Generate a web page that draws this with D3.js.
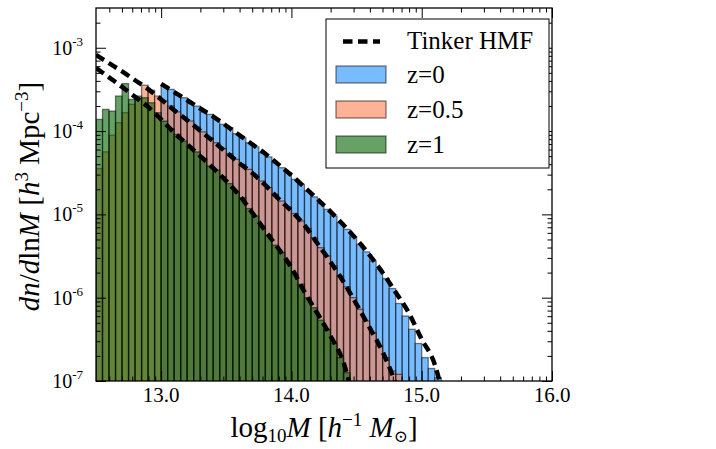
<!DOCTYPE html>
<html>
<head>
<meta charset="utf-8">
<script src="https://cdn.jsdelivr.net/npm/d3@7"></script>
<style>
  body { margin: 0; background: #fff; }
  svg text { font-family: "Liberation Serif", "Times New Roman", Tinos, "DejaVu Serif", "Noto Serif", serif; }
</style>
</head>
<body>
<div id="chart"></div>
<script>
// histogram bins in log10 M
const binStart = 12.5;
const binWidth = 0.05;

// log10 dn/dlnM per bin (index of first bin given)
const z0First = 10;
const z0Hist = [-3.46, -3.50, -3.57, -3.60, -3.67, -3.70, -3.77, -3.80, -3.86, -3.92,
  -3.96, -4.03, -4.08, -4.14, -4.19, -4.26, -4.31, -4.38, -4.44, -4.50,
  -4.58, -4.64, -4.72, -4.79, -4.87, -4.94, -5.02, -5.10, -5.18, -5.27,
  -5.36, -5.45, -5.56, -5.66, -5.77, -5.89, -6.07, -6.22, -6.38, -6.55,
  -6.72, -6.85, -6.96];
const z05First = 0;
const z05Hist = [-4.45, -4.25, -4.05, -3.90, -3.78, -3.68, -3.62, -3.45, -3.51, -3.58,
  -3.64, -3.70, -3.77, -3.83, -3.88, -3.95, -4.01, -4.08, -4.14, -4.21,
  -4.27, -4.34, -4.40, -4.46, -4.53, -4.60, -4.68, -4.76, -4.84, -4.91,
  -4.99, -5.08, -5.17, -5.28, -5.40, -5.50, -5.62, -5.74, -5.87, -6.00,
  -6.14, -6.28, -6.42, -6.58, -6.72, -6.88, -6.92];
const z1First = 0;
const z1Hist = [-3.86, -3.74, -3.76, -3.58, -3.43, -3.62, -3.58, -3.60, -3.66, -3.78,
  -3.88, -3.97, -4.04, -4.12, -4.20, -4.25, -4.33, -4.42, -4.47, -4.55,
  -4.63, -4.74, -4.80, -4.93, -5.02, -5.14, -5.25, -5.37, -5.46, -5.57,
  -5.72, -5.84, -6.00, -6.12, -6.27, -6.38, -6.55, -6.72, -6.90];

// Tinker HMF curves (log10 M, log10 dn/dlnM)
const tinkerZ0Mass = [13.0, 13.1, 13.2, 13.3, 13.4, 13.5, 13.6, 13.7, 13.8, 13.9, 14.0,
  14.1, 14.2, 14.3, 14.4, 14.5, 14.6, 14.7, 14.8, 14.9, 15.0, 15.1, 15.15];
const tinkerZ0 = [-3.433, -3.532, -3.630, -3.729, -3.826, -3.936, -4.048, -4.160, -4.273,
  -4.400, -4.531, -4.674, -4.819, -4.968, -5.128, -5.300, -5.490, -5.700, -5.935,
  -6.180, -6.50, -6.80, -7.08];
const tinkerZ05Mass = [12.5, 12.6, 12.7, 12.8, 12.9, 13.0, 13.1, 13.2, 13.3, 13.4, 13.5,
  13.6, 13.7, 13.8, 13.9, 14.0, 14.1, 14.2, 14.3, 14.4, 14.5, 14.6, 14.7, 14.8];
const tinkerZ05 = [-3.086, -3.185, -3.284, -3.390, -3.496, -3.62, -3.75, -3.87, -3.995,
  -4.123, -4.255, -4.385, -4.505, -4.65, -4.81, -4.96, -5.13, -5.35, -5.57, -5.81,
  -6.08, -6.36, -6.65, -7.02];
const tinkerZ1Mass = [12.5, 12.6, 12.7, 12.8, 12.9, 13.0, 13.1, 13.2, 13.3, 13.4, 13.5,
  13.6, 13.7, 13.8, 13.9, 14.0, 14.1, 14.2, 14.3, 14.4, 14.45];
const tinkerZ1 = [-3.243, -3.355, -3.47, -3.59, -3.71, -3.86, -4.02, -4.16, -4.30, -4.445,
  -4.60, -4.77, -4.98, -5.20, -5.41, -5.64, -5.93, -6.19, -6.46, -6.78, -7.05];

// axis ticks
const xMajor = [13, 14, 15, 16];
const xLabels = ["13.0", "14.0", "15.0", "16.0"];
const yMajorExp = [-7, -6, -5, -4, -3];

const seriesNames = ["z=0", "z=0.5", "z=1"];
const seriesColors = ["#1e90ff", "#ff7f50", "#006400"];

const serif = '"Liberation Serif", "Times New Roman", Tinos, "DejaVu Serif", serif';

const width = 716, height = 449;
const margin = { left: 96, right: 164, top: 8, bottom: 68 };
const x0 = margin.left, x1 = width - margin.right;
const y0 = margin.top, y1 = height - margin.bottom;

const svg = d3.select("#chart").append("svg")
  .attr("width", width)
  .attr("height", height);

const x = d3.scaleLinear().domain([12.5, 16]).range([x0, x1]);
const y = d3.scaleLog().domain([1e-7, 3e-3]).range([y1, y0]);

svg.append("clipPath").attr("id", "plot")
  .append("rect")
  .attr("x", x0).attr("y", y0)
  .attr("width", x1 - x0).attr("height", y1 - y0);

const plot = svg.append("g").attr("clip-path", "url(#plot)");

// histograms: z=0 at the back, z=1 on top
const hists = [[z0First, z0Hist], [z05First, z05Hist], [z1First, z1Hist]];
hists.forEach(([first, vals], i) => {
  const bins = vals.map((v, j) => ({
    lo: binStart + (first + j) * binWidth,
    hi: binStart + (first + j + 1) * binWidth,
    v: Math.pow(10, v)
  }));
  plot.append("g")
    .selectAll("rect")
    .data(bins)
    .join("rect")
    .attr("x", (d) => x(d.lo))
    .attr("width", (d) => x(d.hi) - x(d.lo))
    .attr("y", (d) => y(d.v))
    .attr("height", (d) => y1 + 2 - y(d.v))
    .attr("fill", seriesColors[i])
    .attr("fill-opacity", 0.6)
    .attr("stroke", "#000")
    .attr("stroke-opacity", 0.5)
    .attr("stroke-width", 1.3);
});

// Tinker curves
const line = d3.line()
  .x((d) => x(d[0]))
  .y((d) => y(Math.pow(10, d[1])))
  .curve(d3.curveMonotoneX);

[[tinkerZ0Mass, tinkerZ0], [tinkerZ05Mass, tinkerZ05], [tinkerZ1Mass, tinkerZ1]]
  .forEach(([m, v]) => {
    plot.append("path")
      .datum(m.map((d, i) => [d, v[i]]))
      .attr("d", line)
      .attr("fill", "none")
      .attr("stroke", "#000")
      .attr("stroke-width", 4.5)
      .attr("stroke-dasharray", "9.5,5.5");
  });

// ticks, all pointing inward
const xMinor = [];
for (let n = 12; n <= 15; n++) {
  for (let k = 2; k <= 9; k++) {
    const v = n + Math.log10(k);
    if (v > 12.5 && v < 16) xMinor.push(v);
  }
}
const yMinor = [];
for (let e = -7; e <= -3; e++) {
  for (let k = 2; k <= 9; k++) {
    const v = k * Math.pow(10, e);
    if (v < 3e-3) yMinor.push(v);
  }
}
const yMajor = yMajorExp.map((e) => Math.pow(10, e));

function ticks(axis, vals, size, tx, ty) {
  const g = svg.append("g")
    .attr("transform", `translate(${tx},${ty})`)
    .call(axis.tickValues(vals).tickSize(-size).tickSizeOuter(0).tickFormat(""));
  g.select(".domain").remove();
  g.selectAll("line").attr("stroke", "#000").attr("stroke-width", 1);
  return g;
}

ticks(d3.axisBottom(x), xMinor, 4.5, 0, y1);
ticks(d3.axisTop(x), xMinor, 4.5, 0, y0);
ticks(d3.axisLeft(y), yMinor, 4.5, x0, 0);
ticks(d3.axisRight(y), yMinor, 4.5, x1, 0);
ticks(d3.axisTop(x), xMajor, 10, 0, y0);
ticks(d3.axisRight(y), yMajor, 10, x1, 0);
ticks(d3.axisLeft(y), yMajor, 10, x0, 0);
ticks(d3.axisBottom(x), xMajor, 10, 0, y1);

// x tick labels
xMajor.forEach((v, i) => {
  svg.append("text")
    .attr("x", x(v))
    .attr("y", y1 + 21)
    .attr("text-anchor", "middle")
    .style("font-family", serif)
    .style("font-size", "21px")
    .text(xLabels[i]);
});

// y tick labels 10^e
yMajorExp.forEach((e) => {
  const t = svg.append("text")
    .attr("x", 83)
    .attr("y", y(Math.pow(10, e)) + 7)
    .attr("text-anchor", "end")
    .style("font-family", serif)
    .style("font-size", "20px");
  t.append("tspan").text("10");
  t.append("tspan").attr("dy", -9).style("font-size", "13px").text(String(e));
});

// frame
svg.append("rect")
  .attr("x", x0).attr("y", y0)
  .attr("width", x1 - x0).attr("height", y1 - y0)
  .attr("fill", "none")
  .attr("stroke", "#000")
  .attr("stroke-width", 1.3);

// axis labels
const xl = svg.append("text")
  .attr("x", (x0 + x1) / 2)
  .attr("y", 437)
  .attr("text-anchor", "middle")
  .style("font-family", serif)
  .style("font-size", "29px");
xl.append("tspan").text("log");
xl.append("tspan").attr("dy", 5).style("font-size", "19px").text("10");
xl.append("tspan").attr("dy", -5).style("font-style", "italic").text("M");
xl.append("tspan").text(" [");
xl.append("tspan").style("font-style", "italic").text("h");
xl.append("tspan").attr("dy", -11).style("font-size", "19px").text("\u22121");
xl.append("tspan").attr("dy", 11).text(" ");
xl.append("tspan").style("font-style", "italic").text("M");
xl.append("tspan").attr("dy", 5).style("font-size", "17px").text("\u2299");
xl.append("tspan").attr("dy", -5).text("]");

const yl = svg.append("text")
  .attr("transform", `translate(39,${(y0 + y1) / 2 + 2}) rotate(-90)`)
  .attr("text-anchor", "middle")
  .style("font-family", serif)
  .style("font-size", "29px");
yl.append("tspan").style("font-style", "italic").text("dn");
yl.append("tspan").text("/");
yl.append("tspan").style("font-style", "italic").text("d");
yl.append("tspan").text("ln");
yl.append("tspan").style("font-style", "italic").text("M");
yl.append("tspan").text(" [");
yl.append("tspan").style("font-style", "italic").text("h");
yl.append("tspan").attr("dy", -11).style("font-size", "19px").text("3");
yl.append("tspan").attr("dy", 11).text(" Mpc");
yl.append("tspan").attr("dy", -11).style("font-size", "19px").text("\u22123");
yl.append("tspan").attr("dy", 11).text("]");

// legend
const legend = svg.append("g");
legend.append("rect")
  .attr("x", 326).attr("y", 19)
  .attr("width", 223).attr("height", 149)
  .attr("fill", "#fff")
  .attr("stroke", "#000")
  .attr("stroke-width", 1);
legend.append("line")
  .attr("x1", 343).attr("x2", 380)
  .attr("y1", 41.5).attr("y2", 41.5)
  .attr("stroke", "#000")
  .attr("stroke-width", 4.5)
  .attr("stroke-dasharray", "9.5,5.5");
legend.append("text")
  .attr("x", 407).attr("y", 48.5)
  .style("font-family", serif)
  .style("font-size", "25px")
  .text("Tinker HMF");
seriesNames.forEach((name, i) => {
  const yy = 66 + i * 35;
  legend.append("rect")
    .attr("x", 336).attr("y", yy)
    .attr("width", 50).attr("height", 17)
    .attr("fill", seriesColors[i])
    .attr("fill-opacity", 0.6)
    .attr("stroke", "#000")
    .attr("stroke-opacity", 0.5)
    .attr("stroke-width", 1.3);
  legend.append("text")
    .attr("x", 407).attr("y", yy + 16.5)
    .style("font-family", serif)
    .style("font-size", "25px")
    .text(name);
});
</script>
</body>
</html>
